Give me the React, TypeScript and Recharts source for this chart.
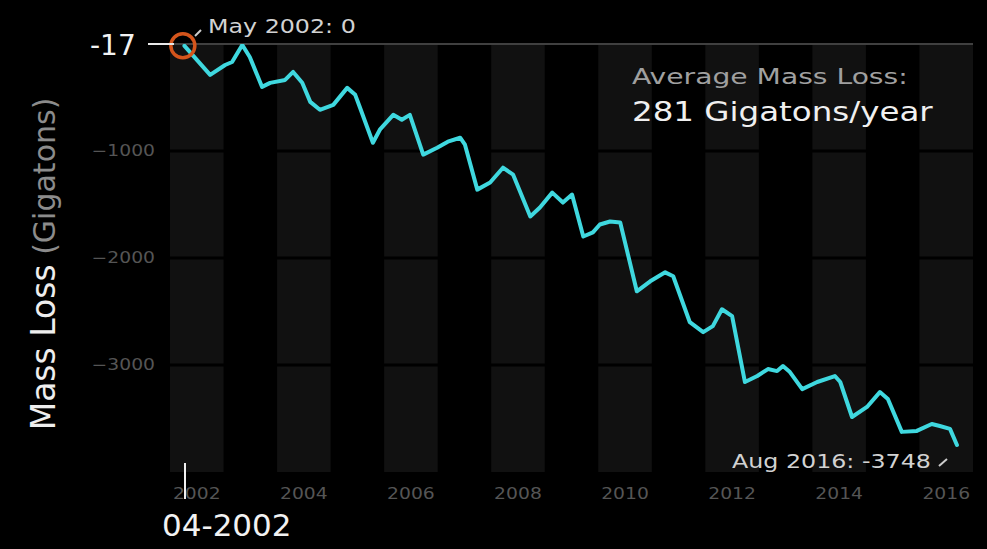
import React from "react";
import {
  LineChart,
  Line,
  XAxis,
  YAxis,
  ReferenceArea,
  ReferenceLine,
  ReferenceDot,
} from "recharts";

// ─── Data ─────────────────────────────────────────────────────────────────────

const years = [
  2002.27, 2002.75, 2003.03, 2003.16, 2003.35, 2003.49, 2003.72, 2003.87,
  2004.15, 2004.3, 2004.47, 2004.62, 2004.8, 2005.05, 2005.31, 2005.46,
  2005.55, 2005.79, 2005.92, 2006.17, 2006.33, 2006.48, 2006.73, 2006.99,
  2007.19, 2007.42, 2007.51, 2007.74, 2007.98, 2008.22, 2008.41, 2008.73,
  2008.91, 2009.14, 2009.34, 2009.51, 2009.72, 2009.9, 2010.03, 2010.22,
  2010.41, 2010.72, 2010.97, 2011.25, 2011.4, 2011.71, 2011.96, 2012.14,
  2012.31, 2012.5, 2012.74, 2012.97, 2013.17, 2013.34, 2013.45, 2013.58,
  2013.81, 2014.09, 2014.42, 2014.52, 2014.74, 2015.02, 2015.26, 2015.41,
  2015.67, 2015.95, 2016.23, 2016.38, 2016.57, 2016.7,
];

const massLoss = [
  -17, -289, -196, -168, -9, -121, -401, -363,
  -336, -261, -363, -541, -615, -569, -410, -475,
  -596, -923, -801, -662, -708, -662, -1034, -969,
  -913, -876, -941, -1361, -1295, -1156, -1221, -1612,
  -1528, -1389, -1482, -1407, -1799, -1761, -1687, -1659,
  -1668, -2311, -2218, -2134, -2171, -2600, -2693, -2637,
  -2479, -2544, -3159, -3103, -3038, -3057, -3010, -3066,
  -3225, -3159, -3103, -3159, -3486, -3392, -3253, -3318,
  -3625, -3616, -3551, -3570, -3597, -3748,
];

const stripeYears = [2002, 2004, 2006, 2008, 2010, 2012, 2014, 2016];
const yearTicks = [2002.5, 2004.5, 2006.5, 2008.5, 2010.5, 2012.5, 2014.5, 2016.5];
const massTicks = [-1000, -2000, -3000];

const chartData = years.map((yr, i) => ({ year: yr, mass: massLoss[i] }));

const FONT = "'DejaVu Sans', Verdana, sans-serif";
const STRETCH = 1.25;

// ─── Ticks ────────────────────────────────────────────────────────────────────

function YearTick({ x, y, payload }: { x?: number; y?: number; payload?: { value: number } }) {
  return (
    <text
      transform={`translate(${x},${y}) scale(${STRETCH},1)`}
      textAnchor="middle"
      dy="0.71em"
      fill="#555"
      fontSize={15}
      fontFamily={FONT}
    >
      {Math.floor(payload?.value ?? 0)}
    </text>
  );
}

function MassTick({ x, y, payload }: { x?: number; y?: number; payload?: { value: number } }) {
  return (
    <text
      transform={`translate(${x},${y}) scale(${STRETCH},1)`}
      textAnchor="end"
      dy="0.355em"
      fill="#555"
      fontSize={15}
      fontFamily={FONT}
    >
      {"\u2212" + Math.abs(payload?.value ?? 0)}
    </text>
  );
}

// ─── Overlay text helper ──────────────────────────────────────────────────────

function Label({
  left,
  top,
  size,
  color,
  stretch = STRETCH,
  weight = 400,
  children,
}: {
  left: number;
  top: number;
  size: number;
  color: string;
  stretch?: number;
  weight?: number;
  children: React.ReactNode;
}) {
  return (
    <div
      style={{
        position: "absolute",
        left,
        top,
        fontSize: size,
        lineHeight: 1,
        color,
        fontWeight: weight,
        whiteSpace: "nowrap",
        transform: `scaleX(${stretch})`,
        transformOrigin: "left top",
      }}
    >
      {children}
    </div>
  );
}

// ─── Chart ────────────────────────────────────────────────────────────────────

export default function App() {
  return (
    <div
      style={{
        position: "absolute",
        left: 0,
        top: 0,
        width: 987,
        height: 549,
        background: "#000",
        overflow: "hidden",
        fontFamily: FONT,
      }}
    >
      <LineChart
        width={987}
        height={549}
        data={chartData}
        margin={{ top: 44, right: 14, left: 110, bottom: 47 }}
      >
        <XAxis
          dataKey="year"
          type="number"
          domain={[2002, 2017]}
          ticks={yearTicks}
          allowDataOverflow
          axisLine={false}
          tickLine={false}
          tickMargin={10}
          height={30}
          tick={<YearTick />}
        />
        <YAxis
          type="number"
          domain={[-4000, 0]}
          ticks={massTicks}
          allowDataOverflow
          axisLine={false}
          tickLine={false}
          tickMargin={9}
          width={60}
          tick={<MassTick />}
        />
        {stripeYears.map((yr) => (
          <ReferenceArea
            key={yr}
            x1={yr}
            x2={yr + 1}
            y1={-4000}
            y2={0}
            fill="#111"
            fillOpacity={1}
            stroke="none"
          />
        ))}
        {massTicks.map((v) => (
          <ReferenceLine key={v} y={v} stroke="#000" strokeWidth={3} />
        ))}
        <ReferenceLine y={0} stroke="#404040" strokeWidth={2} />
        <Line
          type="linear"
          dataKey="mass"
          stroke="#3fd8df"
          strokeWidth={4}
          strokeLinejoin="round"
          strokeLinecap="round"
          dot={false}
          isAnimationActive={false}
        />
        <ReferenceDot
          x={2002.24}
          y={-17}
          r={12}
          fill="none"
          stroke="#d4551c"
          strokeWidth={3.5}
          ifOverflow="visible"
        />
      </LineChart>

      {/* axis title */}
      <div
        style={{
          position: "absolute",
          left: 43,
          top: 264,
          whiteSpace: "nowrap",
          transform: "translate(-50%, -50%) rotate(-90deg)",
          lineHeight: 1,
        }}
      >
        <span style={{ color: "#eeeeee", fontSize: 33 }}>Mass Loss</span>
        <span style={{ color: "#8c8c8c", fontSize: 30 }}>{" (Gigatons)"}</span>
      </div>

      {/* start marker: -17 with white connector */}
      <Label left={90} top={32} size={28} color="#f2f2f2" stretch={1}>
        -17
      </Label>
      <div style={{ position: "absolute", left: 148, top: 43, width: 26, height: 2, background: "#e8e8e8" }} />
      <svg style={{ position: "absolute", left: 0, top: 0 }} width={987} height={549}>
        <line x1={195} y1={36} x2={201} y2={30} stroke="#ccc" strokeWidth={2} />
        <line x1={939} y1={466} x2={947} y2={459} stroke="#ccc" strokeWidth={2} />
      </svg>
      <Label left={208} top={17} size={19} color="#d2d2d2">
        May 2002: 0
      </Label>

      <Label left={632} top={66} size={22} color="#a0a0a0" stretch={1.28}>
        Average Mass Loss:
      </Label>
      <Label left={632} top={99} size={26} color="#f0f0f0">
        281 Gigatons/year
      </Label>

      <Label left={732} top={452} size={19} color="#d2d2d2">
        Aug 2016: -3748
      </Label>

      {/* start date tick */}
      <div style={{ position: "absolute", left: 184, top: 463, width: 2, height: 36, background: "#f0f0f0" }} />
      <Label left={162} top={510} size={31} color="#f2f2f2" stretch={1}>
        04-2002
      </Label>
    </div>
  );
}
